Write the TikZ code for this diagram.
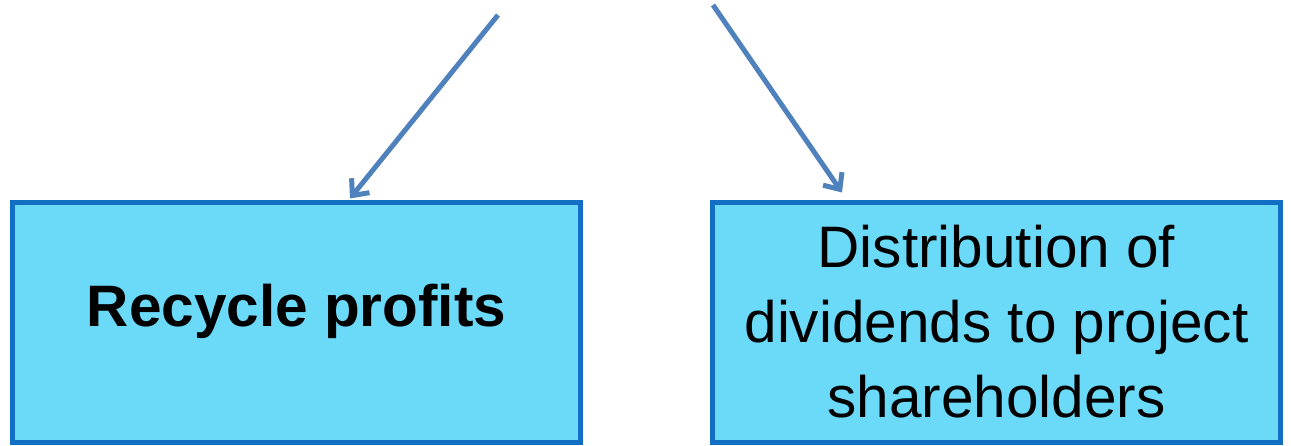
\documentclass[tikz,border=0pt]{standalone}
\usepackage{fontspec}
\setmainfont{Liberation Sans}
\usetikzlibrary{arrows.meta,positioning}

\definecolor{boxfill}{HTML}{6BDAF8}
\definecolor{boxline}{HTML}{136FC4}
\definecolor{flowblue}{HTML}{4F81BD}

\begin{document}
\begin{tikzpicture}[x=1pt,y=1pt,
    outcome/.style={draw=boxline,fill=boxfill,line width=5pt,rectangle,
                    minimum width=568pt,minimum height=239pt,inner sep=0pt},
    outtext/.style={font=\fontsize{58.5}{75}\selectfont,align=center,inner sep=0pt},
    flow/.style={draw=flowblue,line width=5pt,
                 -{Straight Barb[length=13pt,width=23pt,line width=5pt]}}]

        \useasboundingbox (0,0) rectangle (1291,445);

        \node[outcome] (recycle) at (296.5,122.5) {};
        \node[outcome] (dividends) [right=127pt of recycle] {};

        \node[outtext,anchor=base] (recycletext) at ([yshift=-4pt]recycle.center)
            {\bfseries Recycle profits};
        \node[outtext] (dividendstext) at ([yshift=1pt]dividends.center)
            {Distribution of\\dividends to project\\shareholders};

        \coordinate (from1) at (498,430);
        \coordinate (from2) at (713,440);

        \path[flow] (from1) -- ([xshift=53.5pt,yshift=2pt]recycle.north);
        \path[flow] (from2) -- ([xshift=-154.5pt,yshift=8pt]dividends.north);
      \end{tikzpicture}
\end{document}
